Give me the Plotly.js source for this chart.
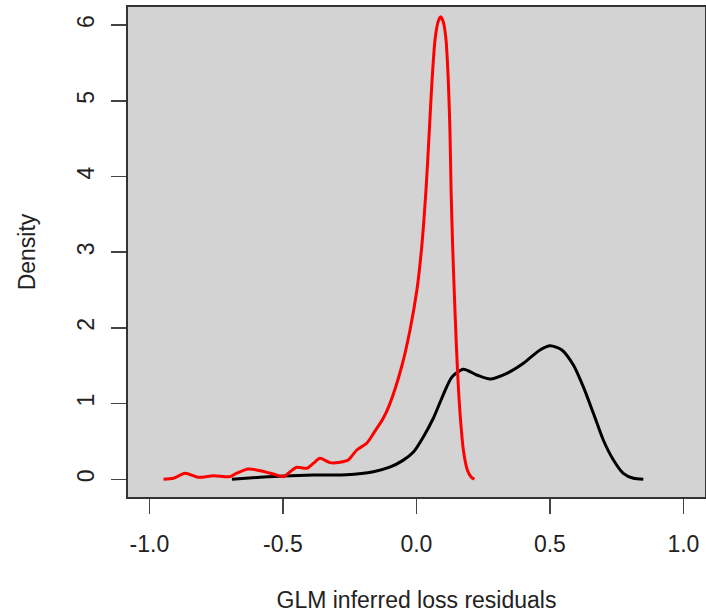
<!DOCTYPE html>
<html>
<head>
<meta charset="utf-8">
<script src="https://cdn.plot.ly/plotly-3.0.1.min.js"></script>
<style>
html,body{margin:0;padding:0;background:#fff;}
#chart{width:706px;height:616px;}
</style>
</head>
<body>
<div id="chart"></div>
<script>
// Black density curve
var blackX = [-0.691, -0.585, -0.498, -0.386, -0.261, -0.161, -0.100, -0.050, -0.011, 0.026, 0.064, 0.101, 0.133, 0.176, 0.226, 0.276, 0.339, 0.401, 0.463, 0.501, 0.545, 0.588, 0.625, 0.663, 0.700, 0.738, 0.775, 0.813, 0.850];
var blackY = [0.0, 0.026, 0.044, 0.057, 0.060, 0.100, 0.160, 0.250, 0.360, 0.560, 0.810, 1.120, 1.350, 1.454, 1.378, 1.325, 1.400, 1.533, 1.709, 1.766, 1.709, 1.510, 1.224, 0.872, 0.519, 0.255, 0.079, 0.013, 0.0];

// Red density curve
var redX = [-0.947, -0.910, -0.866, -0.816, -0.760, -0.698, -0.673, -0.629, -0.585, -0.536, -0.498, -0.473, -0.448, -0.411, -0.386, -0.361, -0.323, -0.286, -0.255, -0.223, -0.186, -0.158, -0.124, -0.099, -0.055, -0.024, 0.002, 0.020, 0.036, 0.048, 0.058, 0.070, 0.081, 0.091, 0.101, 0.111, 0.120, 0.126, 0.130, 0.136, 0.145, 0.154, 0.164, 0.176, 0.191, 0.205, 0.217];
var redY = [0.0, 0.013, 0.080, 0.026, 0.048, 0.035, 0.080, 0.136, 0.114, 0.070, 0.035, 0.100, 0.158, 0.145, 0.210, 0.277, 0.220, 0.225, 0.255, 0.387, 0.476, 0.620, 0.806, 1.000, 1.490, 1.970, 2.500, 3.070, 3.820, 4.570, 5.230, 5.810, 6.040, 6.110, 6.040, 5.810, 5.230, 4.570, 3.820, 3.070, 2.190, 1.440, 0.850, 0.387, 0.123, 0.030, 0.0];

var xTickVals = [-1, -0.5, 0, 0.5, 1];
var xTickText = ["-1.0", "-0.5", "0.0", "0.5", "1.0"];
var yTickVals = [0, 1, 2, 3, 4, 5, 6];
var yTickText = ["0", "1", "2", "3", "4", "5", "6"];

var traces = [
  {x: blackX, y: blackY, type: 'scatter', mode: 'lines', line: {color: '#000000', width: 3, shape: 'spline', smoothing: 0.7}, hoverinfo: 'skip'},
  {x: redX, y: redY, type: 'scatter', mode: 'lines', line: {color: '#ff0000', width: 3, shape: 'spline', smoothing: 0.7}, hoverinfo: 'skip'}
];

var font = {family: '"Liberation Sans", Arial, sans-serif', size: 23, color: '#222'};

var layout = {
  width: 706, height: 616,
  margin: {l: 128, r: 1, t: 7, b: 119, pad: 0},
  paper_bgcolor: '#ffffff',
  plot_bgcolor: '#d3d3d3',
  showlegend: false,
  font: font,
  xaxis: {
    range: [-1.08, 1.081],
    tickvals: xTickVals, ticktext: xTickText,
    ticks: 'outside', ticklen: 15, tickwidth: 1.5, tickcolor: '#444',
    ticklabelstandoff: 10,
    showline: true, mirror: true, linecolor: '#333', linewidth: 2,
    showgrid: false, zeroline: false,
    tickfont: font,
    title: {text: 'GLM inferred loss residuals', font: font, standoff: 36}
  },
  yaxis: {
    range: [-0.234, 6.24],
    tickvals: yTickVals, ticktext: yTickText,
    tickangle: -90,
    ticks: 'outside', ticklen: 15, tickwidth: 1.5, tickcolor: '#444',
    ticklabelstandoff: 8,
    showline: true, mirror: true, linecolor: '#333', linewidth: 2,
    showgrid: false, zeroline: false,
    tickfont: font,
    title: {text: 'Density', font: font, standoff: 31}
  }
};

Plotly.newPlot('chart', traces, layout, {displayModeBar: false, staticPlot: true});
</script>
</body>
</html>
